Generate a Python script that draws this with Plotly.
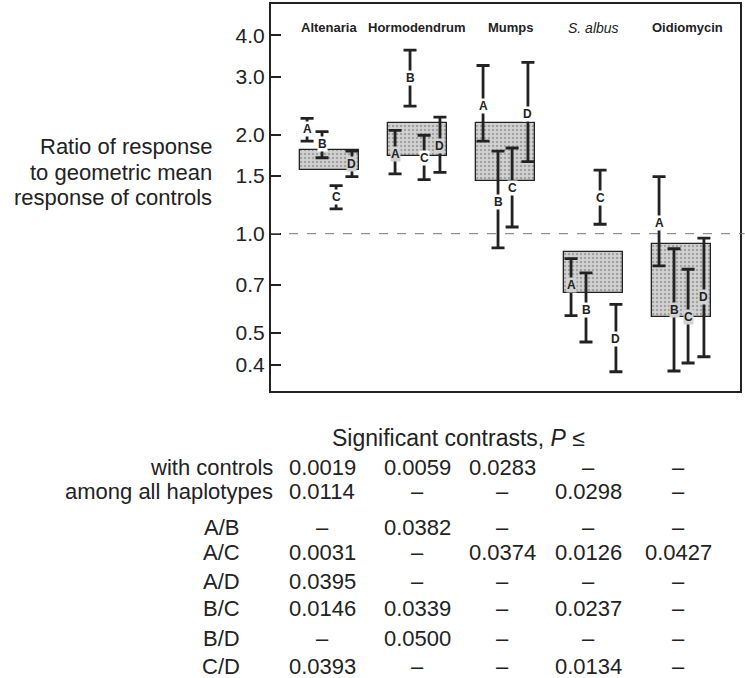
import numpy as np
import plotly.graph_objects as go

# ---------------- data ----------------
groups = ["Altenaria", "Hormodendrum", "Mumps", "<i>S. albus</i>", "Oidiomycin"]
haplotypes = ["A", "B", "C", "D"]

# shaded box (all haplotypes) limits, per antigen
box_low = [1.56, 1.72, 1.45, 0.66, 0.56]
box_high = [1.80, 2.17, 2.17, 0.88, 0.93]

# per-haplotype estimate and limits  [antigen][haplotype A..D]
centre = [
    [2.08, 1.87, 1.29, 1.63],
    [1.75, 2.97, 1.70, 1.85],
    [2.44, 1.25, 1.38, 2.31],
    [0.70, 0.588, 1.28, 0.478],
    [1.075, 0.588, 0.56, 0.644],
]
upper = [
    [2.24, 2.04, 1.40, 1.78],
    [2.06, 3.61, 1.99, 2.26],
    [3.24, 1.78, 1.82, 3.31],
    [0.84, 0.76, 1.56, 0.61],
    [1.49, 0.90, 0.78, 0.97],
]
lower = [
    [1.91, 1.70, 1.19, 1.49],
    [1.52, 2.44, 1.46, 1.535],
    [1.91, 0.906, 1.048, 1.654],
    [0.564, 0.469, 1.068, 0.381],
    [0.798, 0.383, 0.405, 0.423],
]

tick_vals = [0.4, 0.5, 0.7, 1.0, 1.5, 2.0, 3.0, 4.0]
tick_text = ["0.4", "0.5", "0.7", "1.0", "1.5", "2.0", "3.0", "4.0"]

y_title_lines = ["Ratio of response", "to geometric mean", "response of controls"]

DASH = "–"
table_header = "Significant contrasts, <i>P</i> ≤"
row_labels = ["with controls", "among all haplotypes",
              "A/B", "A/C", "A/D", "B/C", "B/D", "C/D"]
p_values = [
    ["0.0019", "0.0059", "0.0283", DASH, DASH],
    ["0.0114", DASH, DASH, "0.0298", DASH],
    [DASH, "0.0382", DASH, DASH, DASH],
    ["0.0031", DASH, "0.0374", "0.0126", "0.0427"],
    ["0.0395", DASH, DASH, DASH, DASH],
    ["0.0146", "0.0339", DASH, "0.0237", DASH],
    [DASH, "0.0500", DASH, DASH, DASH],
    ["0.0393", DASH, DASH, "0.0134", DASH],
]

# ---------------- layout constants ----------------
W, H = 745, 678
L, R, T, B = 271, 740, 2, 391
FONT = "Liberation Sans, Arial, sans-serif"
INK = "#222222"
BOXFILL = "#d2d2d2"
offsets = [-0.25, -0.08, 0.08, 0.26]
box_width = 0.67
label_shift = [0, 0, 0.07, 0, 0.07]      # nudges of antigen names (x units)
title_y = [145, 171, 197]                 # pixel rows of y-title lines
header_y = 438
row_y = [468, 492, 528, 553, 582, 610, 640, 668]
col_x = [322, 417, 502, 588, 678]


def px(x):
    return (x - L) / (R - L)


def py(y):
    return (B - y) / (B - T)


fig = go.Figure()

# shaded boxes
fig.add_trace(go.Bar(
    x=list(range(len(groups))),
    base=box_low,
    y=[h - l for h, l in zip(box_high, box_low)],
    width=box_width,
    marker=dict(
        color=BOXFILL,
        line=dict(color=INK, width=1.3),
        pattern=dict(shape=".", size=4, solidity=0.32,
                     fgcolor="#707070", bgcolor=BOXFILL),
    ),
    hoverinfo="skip",
    showlegend=False,
))

# haplotype interval bars
xs, ys, ep, em, labels = [], [], [], [], []
for i in range(len(groups)):
    for j, h in enumerate(haplotypes):
        xs.append(i + offsets[j])
        ys.append(centre[i][j])
        ep.append(upper[i][j] - centre[i][j])
        em.append(centre[i][j] - lower[i][j])
        labels.append(h)

fig.add_trace(go.Scatter(
    x=xs, y=ys, mode="markers",
    marker=dict(size=2, color="rgba(0,0,0,0)"),
    error_y=dict(type="data", symmetric=False, array=ep, arrayminus=em,
                 color=INK, thickness=2.8, width=6.5),
    hoverinfo="skip", showlegend=False,
))

annotations = []
# haplotype letters
for k, (x, y, lab) in enumerate(zip(xs, ys, labels)):
    gi = k // 4
    inside = box_low[gi] <= y <= box_high[gi]
    annotations.append(dict(
        x=x, y=np.log10(y), xref="x", yref="y", text=lab, showarrow=False,
        xanchor="center", yanchor="middle",
        font=dict(family=FONT, size=12, color=INK, weight="bold"),
        bgcolor=BOXFILL if inside else "white", borderpad=0,
    ))

# antigen names across the top
for i, g in enumerate(groups):
    italic = g.startswith("<i>")
    annotations.append(dict(
        x=i + label_shift[i], y=py(26), xref="x", yref="paper", text=g,
        showarrow=False, xanchor="center", yanchor="middle",
        font=dict(family=FONT, size=14 if italic else 13, color=INK,
                  weight="normal" if italic else "bold"),
    ))

# y title (three right-aligned lines)
for line, yy in zip(y_title_lines, title_y):
    annotations.append(dict(
        x=px(214), y=py(yy), xref="paper", yref="paper", xanchor="right",
        yanchor="middle", showarrow=False, text=line,
        font=dict(family=FONT, size=22, color=INK),
    ))

# table
annotations.append(dict(
    x=px(458), y=py(header_y), xref="paper", yref="paper", showarrow=False,
    xanchor="center", yanchor="middle",
    text=table_header, font=dict(family=FONT, size=23, color=INK),
))
for r, (lab, vals) in enumerate(zip(row_labels, p_values)):
    if r < 2:
        annotations.append(dict(
            x=px(275), y=py(row_y[r]), xref="paper", yref="paper",
            xanchor="right", yanchor="middle", showarrow=False, text=lab,
            font=dict(family=FONT, size=22, color=INK),
        ))
    else:
        annotations.append(dict(
            x=px(221), y=py(row_y[r]), xref="paper", yref="paper",
            xanchor="center", yanchor="middle", showarrow=False, text=lab,
            font=dict(family=FONT, size=22, color=INK),
        ))
    for c, v in enumerate(vals):
        annotations.append(dict(
            x=px(col_x[c]), y=py(row_y[r]), xref="paper", yref="paper",
            xanchor="center", yanchor="middle", showarrow=False, text=v,
            font=dict(family=FONT, size=22, color=INK),
        ))

fig.update_layout(
    width=W, height=H,
    margin=dict(l=L, r=W - R, t=T, b=H - B),
    paper_bgcolor="white", plot_bgcolor="white",
    hovermode=False,
    bargap=0,
    annotations=annotations,
    shapes=[dict(type="line", xref="paper", x0=0, x1=1.01, yref="y",
                 y0=1.0, y1=1.0,
                 line=dict(color="#777777", width=1, dash="dash"))],
    xaxis=dict(range=[-0.66, 4.67], showticklabels=False, ticks="",
               showgrid=False, zeroline=False, showline=True, mirror=True,
               linecolor=INK, linewidth=2, fixedrange=True),
    yaxis=dict(type="log", range=[np.log10(0.333), np.log10(4.98)],
               tickvals=tick_vals, ticktext=tick_text, ticks="inside",
               ticklen=10, tickwidth=1.5, tickcolor=INK,
               tickfont=dict(family=FONT, size=21, color=INK),
               showgrid=False, zeroline=False, showline=True, mirror=True,
               linecolor=INK, linewidth=2, fixedrange=True),
)

fig.write_html("out.html",
               config={"displayModeBar": False},
               post_script="document.body.style.margin='0';")
